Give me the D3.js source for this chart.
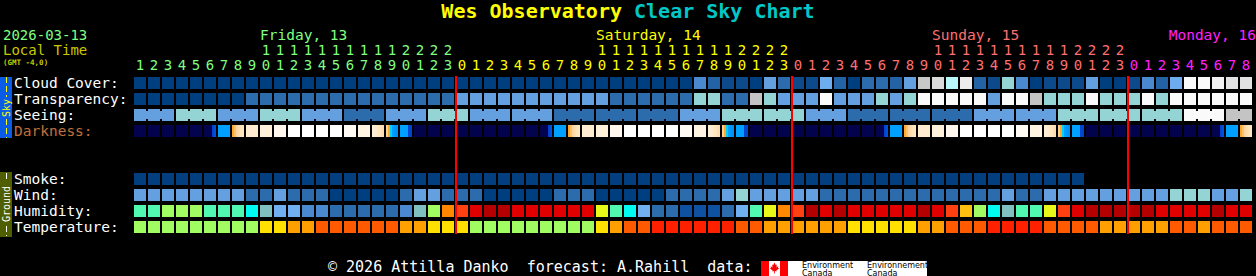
<!DOCTYPE html>
<html>
<head>
<meta charset="utf-8">
<script src="https://d3js.org/d3.v7.min.js"></script>
<style>
  body { margin: 0; background: #000; }
  svg { display: block; }
  text { font-family: "DejaVu Sans Mono", monospace; }
</style>
</head>
<body>
<svg class="chart"></svg>
<script>
var width = 1256, height = 276;

// local hours shown across the top, one column each
var hours = [1,2,3,4,5,6,7,8,9,10,11,12,13,14,15,16,17,18,19,20,21,22,23,
  0,1,2,3,4,5,6,7,8,9,10,11,12,13,14,15,16,17,18,19,20,21,22,23,
  0,1,2,3,4,5,6,7,8,9,10,11,12,13,14,15,16,17,18,19,20,21,22,23,
  0,1,2,3,4,5,6,7,8];
var dayNames = ["Friday, 13", "Saturday, 14", "Sunday, 15", "Monday, 16"];

// cloud cover, %
var cloudCover = [0,0,0,0,0,0,0,0,0,0, 0,0,0,0,0,0,0,0,0,0,
  0,0,0,0,0,0,0,0,0,0, 0,0,0,0,0,0,0,0,0,0,
  40,20,10,10,0,50,30,10,10,60, 20,0,30,30,20,50,75,80,70,90,
  20,10,65,40,0,10,10,10,50,0, 0,10,40,20,60,100,100,95,85,85];

// transparency: 5 transparent .. 1 poor, 0 too cloudy
var transparency = [5,5,5,5,5,5,5,5,4,4, 4,4,4,4,4,4,4,4,4,4,
  4,4,4,3,3,3,3,3,3,3, 3,3,3,3,4,4,4,4,4,4,
  2,2,4,4,1,2,3,3,3,0, 3,3,3,2,3,2,0,0,0,0,
  0,3,0,0,1,2,2,2,0,2, 2,2,0,2,0,0,0,0,0,0];

// seeing, one value per 3 hour block: 5 excellent .. 1 bad, 0 too cloudy
var seeing = [3,2,3,2,3,4,3,2,3,3,4,4,4,3,2,2,3,4,4,4,3,3,2,2,2,0,1];

// darkness, limiting magnitude (negative = daylight); split cells list sub-hour values
var darkness = [
  6.5,6.5,6.5,6.5,6.4,[6.4,6.4,6.4,6.4,3,2.5],0,[-1,-1.6,-2.2,-2.6,-2.8,-3],-3.4,-3.8,-4.3,
  -5,-5,-5,-5,-4.6,-4,[-3.6,-3.3,-3,-2.6],[-2,-1,-0.3,0,0.3,0.6],[0,0,0,0,3,3],6.5,6.5,6.5,
  6.5,6.5,6.5,6.5,6.5,6.4,[6.4,6.4,6.4,6.4,3,2.5],0,[-1,-1.6,-2.2,-2.6,-2.8,-3],-3.4,-3.8,-4.3,
  -5,-5,-5,-5,-4.6,-4,[-3.6,-3.3,-3,-2.6],[-2,-1,-0.3,0,0.3,0.6],[0,0,0,0,3,3],6.5,6.5,6.5,
  6.5,6.5,6.5,6.5,6.5,6.4,[6.4,6.4,6.4,6.4,3,2.5],0,[-1,-1.6,-2.2,-2.6,-2.8,-3],-3.4,-3.8,-4.3,
  -5,-5,-5,-5,-4.6,-4,[-3.6,-3.3,-3,-2.6],[-2,-1,-0.3,0,0.3,0.6],[0,0,0,0,3,3],6.5,6.5,6.5,
  6.5,6.5,6.5,6.5,6.5,6.4,[6.4,6.4,6.4,6.4,3,2.5],0,[-1,-1.6,-2.2,-2.6,-2.8,-3]];

// smoke, ug/m3 (forecast stops earlier than the others)
var smoke = [0,0,0,0,0,0,0,0,0,0, 0,0,0,0,0,0,0,0,0,0,
  0,0,0,0,0,0,0,0,0,0, 0,0,0,0,0,0,0,0,0,0,
  0,0,0,0,0,0,0,0,0,0, 0,0,0,0,0,0,0,0,0,0,
  0,0,0,0,0,0,0,0];

// wind, mph
var wind = [14,14,14,14,14,14,14,14,8,8, 14,8,8,8,3,3,3,3,3,8,
  14,14,8,8,8,3,3,3,3,3, 8,8,8,3,3,3,3,3,8,8,
  8,8,14,20,14,14,14,14,14,8, 8,8,8,8,8,8,8,8,8,8,
  8,8,14,8,8,14,14,14,14,14, 14,14,14,14,20,20,20,14,14,20];

// relative humidity, %
var humidity = [60,60,65,65,65,60,60,60,55,50, 45,45,40,40,35,35,35,35,35,40,
  50,65,80,85,90,95,95,90,90,90, 90,90,90,70,60,55,45,35,35,30,
  30,30,35,45,60,70,80,85,95,90, 95,90,90,90,90,90,95,90,85,75,
  65,55,50,60,60,70,85,90,95,95, 95,95,95,90,90,90,90,95,90,90];

// temperature, C
var temperature = [1,1,1,1,1,1,1,1,1,4, 4,7,7,10,10,10,10,10,10,7,
  7,4,4,4,1,1,1,1,1,1, 1,1,1,4,7,10,10,13,13,13,
  13,13,13,10,10,7,7,7,7,7, 7,4,4,4,4,4,7,7,10,10,
  10,13,13,13,13,10,10,10,10,7, 7,7,7,7,10,10,7,10,10,10];

var rowKeys = ["cloud", "transp", "seeing", "dark", "gap1", "gap2", "smoke", "wind", "hum", "temp"];
var rowLabels = {cloud: "Cloud Cover:", transp: "Transparency:", seeing: "Seeing:", dark: "Darkness:",
  smoke: "Smoke:", wind: "Wind:", hum: "Humidity:", temp: "Temperature:"};

var dayColors = ["#80ff80", "#ffff00", "#ff7070", "#ff20ff"];

var cloudColor = d3.scaleOrdinal()
  .domain([0,10,20,30,40,50,60,65,70,75,80,85,90,95,100])
  .range(["#003f7f","#0d4a8b","#2462a6","#2c6cae","#4a89cf","#64a0e0","#6eacf0","#94d4d4",
          "#b8f8f8","#c8c8c8","#dadada","#e2e2e2","#ececec","#f2f2f2","#fafafa"]);
var skyColor = d3.scaleOrdinal()
  .domain([0,1,2,3,4,5])
  .range(["#fafafa","#c4c4c4","#94d4d4","#64a0e0","#2c6cac","#003f7f"]);
var darkColor = d3.scaleLinear()
  .domain([-5,-4,-3,-2,-1,-0.3,0,3,5,6.5])
  .range(["#ffffff","#fff3e3","#ffe6c2","#ffd090","#ffa830","#00d0ff","#00a0ff","#0044d0","#08087a","#03034d"]);
var smokeColor = d3.scaleThreshold().domain([2]).range(["#033e7e","#2c6cac"]);
var windColor = d3.scaleThreshold()
  .domain([6,12,17])
  .range(["#003f7f","#2c6cac","#64a0e0","#94d4d4"]);
var humColor = d3.scaleOrdinal()
  .domain([30,35,40,45,50,55,60,65,70,75,80,85,90,95])
  .range(["#1050a0","#2c6cac","#4a88d0","#70b0f0","#80c0c0","#00fcf0","#50f8b0","#a0fc60",
          "#e8f818","#ffc010","#ff8800","#ff4010","#e00000","#b40000"]);
var tempColor = d3.scaleOrdinal()
  .domain([1,4,7,10,13])
  .range(["#a0fc60","#ffe000","#ffa000","#ff5a00","#ff2000"]);

var x = d3.scaleBand()
  .domain(d3.range(hours.length))
  .range([134, 1252])
  .paddingInner(2 / 14)
  .paddingOuter(0);

var y = d3.scaleBand()
  .domain(rowKeys)
  .range([77, 233])
  .paddingInner(0.25)
  .paddingOuter(0);

var bw = x.bandwidth(), bh = y.bandwidth();

var svg = d3.select(".chart")
  .attr("width", width)
  .attr("height", height)
  .attr("shape-rendering", "crispEdges");

svg.append("rect").attr("width", width).attr("height", height).attr("fill", "#000");

// title
var title = svg.append("text")
  .attr("x", width / 2)
  .attr("y", 18)
  .attr("text-anchor", "middle")
  .style("font-size", "20px")
  .style("font-weight", "bold");
title.append("tspan").attr("fill", "#ffff00").text("Wes Observatory ");
title.append("tspan").attr("fill", "#00c8c8").text("Clear Sky Chart");

svg.append("text").attr("x", 3).attr("y", 40).attr("fill", dayColors[0])
  .style("font-size", "14px").text("2026-03-13");
svg.append("text").attr("x", 3).attr("y", 55).attr("fill", "#c8c800")
  .style("font-size", "14px").text("Local Time");
svg.append("text").attr("x", 3).attr("y", 65).attr("fill", "#c8c800")
  .style("font-size", "7.5px").style("font-weight", "bold").text("(GMT -4,0)");

// day index of every column
var dayIdx = [];
hours.forEach(function(h, i) {
  dayIdx.push(i == 0 ? 0 : dayIdx[i - 1] + (h == 0 ? 1 : 0));
});

// hour labels, tens and units
var hourG = svg.append("g").style("font-size", "14px").attr("text-anchor", "middle");
hourG.selectAll(".tens")
    .data(hours.map(function(h, i) { return {h: h, i: i}; }).filter(function(d) { return d.h >= 10; }))
  .enter().append("text")
    .attr("x", function(d) { return x(d.i) + bw / 2; })
    .attr("y", 55)
    .attr("fill", function(d) { return dayColors[dayIdx[d.i]]; })
    .text(function(d) { return Math.floor(d.h / 10); });
hourG.selectAll(".units")
    .data(hours)
  .enter().append("text")
    .attr("x", function(d, i) { return x(i) + bw / 2; })
    .attr("y", 70)
    .attr("fill", function(d, i) { return dayColors[dayIdx[i]]; })
    .text(function(d) { return d % 10; });

// day names start over hour 10, clamped to the right edge
dayNames.forEach(function(name, k) {
  var col = hours.findIndex(function(h, i) { return dayIdx[i] == k && h == 10; });
  var t = svg.append("text")
    .attr("y", 40)
    .attr("fill", dayColors[k])
    .style("font-size", "14.5px")
    .text(name);
  var len = t.node().getComputedTextLength();
  var px = col >= 0 ? x(col) : width;
  t.attr("x", Math.min(px, width - len));
});

// row labels
rowKeys.forEach(function(k) {
  if (!rowLabels[k]) return;
  svg.append("text")
    .attr("x", 14)
    .attr("y", y(k) + 10.5)
    .attr("fill", k == "dark" ? "#c0703a" : "#ffffff")
    .style("font-size", "14.5px")
    .text(rowLabels[k]);
});

// side tabs
svg.append("rect").attr("x", 0).attr("y", 77).attr("width", 12).attr("height", 61).attr("fill", "#0a5ce6");
svg.append("rect").attr("x", 0).attr("y", 172).attr("width", 12).attr("height", 65).attr("fill", "#4e5e00");
[[77, 97], [119, 138]].forEach(function(s) {
  svg.append("line").attr("x1", 6).attr("x2", 6).attr("y1", s[0]).attr("y2", s[1])
    .attr("stroke", "#ffff00").attr("stroke-dasharray", "6,3");
});
[[173, 181], [226, 236]].forEach(function(s) {
  svg.append("line").attr("x1", 6).attr("x2", 6).attr("y1", s[0]).attr("y2", s[1])
    .attr("stroke", "#ffffff").attr("stroke-dasharray", "6,3");
});
svg.append("text").attr("transform", "translate(10,108) rotate(-90)")
  .attr("text-anchor", "middle").attr("fill", "#ffff00")
  .style("font-size", "10px").text("Sky");
svg.append("text").attr("transform", "translate(10,204) rotate(-90)")
  .attr("text-anchor", "middle").attr("fill", "#ffffff")
  .style("font-size", "10px").text("Ground");

function drawRow(key, values, color) {
  svg.append("g").selectAll("rect")
      .data(values)
    .enter().append("rect")
      .attr("x", function(d, i) { return x(i); })
      .attr("y", y(key))
      .attr("width", bw)
      .attr("height", bh)
      .attr("fill", color);
}

drawRow("cloud", cloudCover, cloudColor);
drawRow("transp", transparency, skyColor);

// seeing: 3 hour blocks joined with notched connectors
var seeCols = hours.map(function(h, i) { return seeing[Math.floor(i / 3)]; });
drawRow("seeing", seeCols, skyColor);
svg.append("g").selectAll("rect")
    .data(seeCols.map(function(v, i) { return {v: v, i: i}; })
      .filter(function(d) { return d.i % 3 != 2 && d.i + 1 < hours.length; }))
  .enter().append("rect")
    .attr("x", function(d) { return x(d.i) + bw; })
    .attr("y", y("seeing") + 2)
    .attr("width", x.step() - bw)
    .attr("height", bh - 4)
    .attr("fill", function(d) { return skyColor(d.v); });

// darkness with sub-hour segments
var darkSegs = [];
darkness.forEach(function(v, i) {
  var parts = Array.isArray(v) ? v : [v];
  parts.forEach(function(p, j) {
    darkSegs.push({i: i, j: j, n: parts.length, v: p});
  });
});
svg.append("g").selectAll("rect")
    .data(darkSegs)
  .enter().append("rect")
    .attr("x", function(d) { return x(d.i) + d.j * bw / d.n; })
    .attr("y", y("dark"))
    .attr("width", function(d) { return bw / d.n; })
    .attr("height", bh)
    .attr("fill", function(d) { return darkColor(d.v); });

drawRow("smoke", smoke, smokeColor);
drawRow("wind", wind, windColor);
drawRow("hum", humidity, humColor);
drawRow("temp", temperature, tempColor);

// midnight lines
svg.append("g").selectAll("rect")
    .data(hours.map(function(h, i) { return {h: h, i: i}; }).filter(function(d) { return d.h == 0; }))
  .enter().append("rect")
    .attr("x", function(d) { return x(d.i) - 1; })
    .attr("y", 76)
    .attr("width", 2)
    .attr("height", 158)
    .attr("fill", "#ff0000");

// footer
svg.append("text").attr("x", 328).attr("y", 272).attr("fill", "#ffffff")
  .style("font-size", "15px").attr("xml:space", "preserve")
  .text("\u00a9 2026 Attilla Danko  forecast: A.Rahill  data:");

var logo = svg.append("g");
logo.append("rect").attr("x", 761).attr("y", 261).attr("width", 166).attr("height", 15).attr("fill", "#ffffff");
logo.append("rect").attr("x", 761).attr("y", 261).attr("width", 8).attr("height", 15).attr("fill", "#ff0000");
logo.append("rect").attr("x", 780).attr("y", 261).attr("width", 8).attr("height", 15).attr("fill", "#ff0000");
logo.append("path")
  .attr("transform", "translate(774.5,267.5)")
  .attr("fill", "#ff0000")
  .attr("shape-rendering", "auto")
  .attr("d", "M0,-5 L1.2,-2.6 L2.3,-3 L2,0 L3.8,-1.5 L3.4,0.3 L4.6,1 L1.8,3 L2.2,4 L0.4,3.6 L0.4,6 L-0.4,6 L-0.4,3.6 L-2.2,4 L-1.8,3 L-4.6,1 L-3.4,0.3 L-3.8,-1.5 L-2,0 L-2.3,-3 L-1.2,-2.6 Z");
[[802, "Environment"], [867, "Environnement"]].forEach(function(t) {
  logo.append("text").attr("x", t[0]).attr("y", 267.5).attr("fill", "#000")
    .style("font-family", "'DejaVu Sans', sans-serif").style("font-size", "8px").text(t[1]);
  logo.append("text").attr("x", t[0]).attr("y", 275.5).attr("fill", "#000")
    .style("font-family", "'DejaVu Sans', sans-serif").style("font-size", "8px").text("Canada");
});
</script>
</body>
</html>
